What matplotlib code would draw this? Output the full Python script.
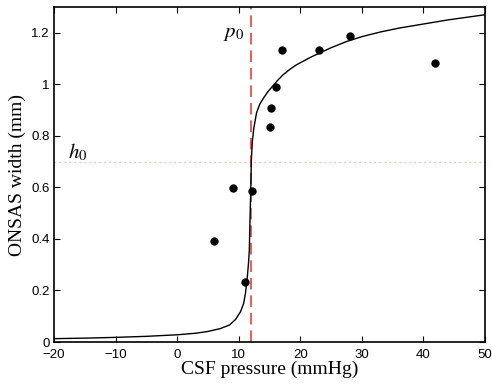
import matplotlib
matplotlib.use("Agg")
import matplotlib.pyplot as plt

plt.rcParams['mathtext.fontset'] = 'stix'

# measured data points
pressure = [6.0, 9.0, 11.0, 12.1, 15.0, 15.2, 16.0, 17.0, 23.0, 28.1, 41.9]
width = [0.391, 0.597, 0.233, 0.585, 0.834, 0.908, 0.99, 1.134, 1.133, 1.188, 1.084]

# fitted curve
curve_p = [-20, -15, -10, -5, 0, 3, 5, 7, 8.5, 9.5, 10.3, 10.8, 11.1, 11.4, 11.6,
           11.72, 11.83, 11.94, 12.0, 12.05, 12.2, 12.45, 12.9, 13.4, 14.0, 14.7,
           15.4, 16.3, 17.2, 18.3, 19.4, 20.5, 21.6, 23, 25, 27.5, 30, 33, 36, 40,
           44, 47, 50]
curve_h = [0.013, 0.015, 0.018, 0.022, 0.028, 0.034, 0.041, 0.052, 0.066, 0.088,
           0.118, 0.15, 0.19, 0.254, 0.31, 0.357, 0.474, 0.577, 0.645, 0.707, 0.775,
           0.83, 0.89, 0.922, 0.946, 0.97, 0.99, 1.015, 1.037, 1.058, 1.076, 1.09,
           1.104, 1.12, 1.142, 1.166, 1.185, 1.203, 1.218, 1.234, 1.25, 1.26, 1.27]

p0 = 12.0
h0 = 0.70
xticks = [-20, -10, 0, 10, 20, 30, 40, 50]
yticks = [0, 0.2, 0.4, 0.6, 0.8, 1, 1.2]
yticklabels = ['0', '0.2', '0.4', '0.6', '0.8', '1', '1.2']

fig = plt.figure(figsize=(4.92, 3.89), dpi=100)
ax = fig.add_axes([0.1098, 0.1208, 0.8760, 0.8612])

ax.axhline(h0, color='#ff9c9c', linestyle=(0, (1, 3)), linewidth=0.9, zorder=1)
ax.axvline(p0, color='#ee5a5a', linestyle=(0, (6, 3)), linewidth=1.4, zorder=2)
ax.plot(curve_p, curve_h, color='black', linewidth=1.0, zorder=3)
ax.plot(pressure, width, 'o', color='black', markersize=5, zorder=4)

ax.set_xlim(-20, 50)
ax.set_ylim(0, 1.3)
ax.set_xticks(xticks)
ax.set_yticks(yticks)
ax.set_yticklabels(yticklabels)
ax.tick_params(direction='in', top=True, right=True, length=4, width=0.8,
               labelsize=9.5)
ax.tick_params(axis='x', pad=5)
ax.tick_params(axis='y', pad=3)
for lab in ax.get_xticklabels() + ax.get_yticklabels():
    lab.set_family('Liberation Sans')
for s in ax.spines.values():
    s.set_linewidth(1.2)

ax.set_xlabel('CSF pressure (mmHg)', family='Liberation Serif', fontsize=14, labelpad=0)
ax.set_ylabel('ONSAS width (mm)', family='Liberation Serif', fontsize=14, labelpad=4)

ax.text(p0 - 1.2, 1.2, r'$p_0$', fontsize=15, ha='right', va='center')
ax.text(-17.8, 0.735, r'$h_0$', fontsize=15, ha='left', va='center')

fig.savefig('out.png', dpi=100)
